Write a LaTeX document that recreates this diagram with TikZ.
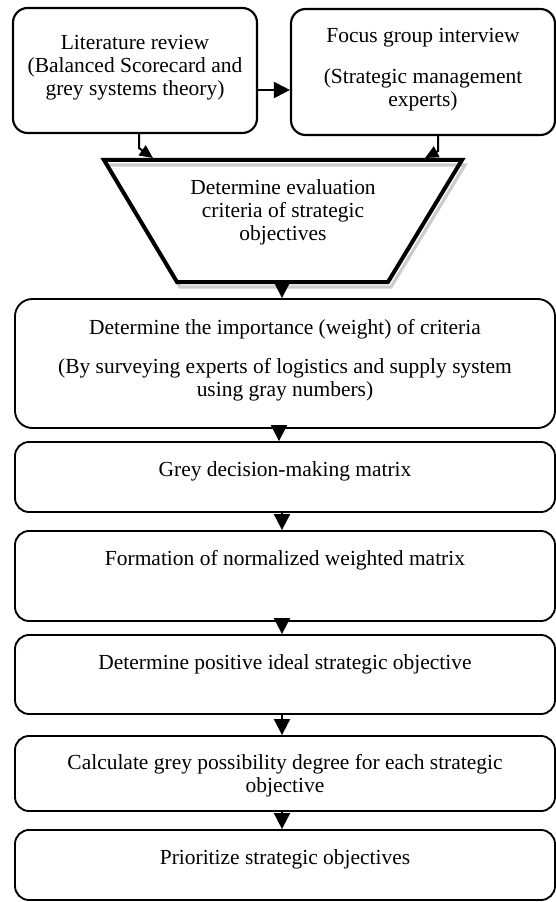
\documentclass[tikz,border=0pt]{standalone}
\usepackage{fontspec}
\setmainfont{Liberation Serif}
\usetikzlibrary{arrows.meta,fit}
\begin{document}
\begin{tikzpicture}[x=0.75pt,y=-0.75pt,
  box/.style={draw, line width=1.4pt, rounded corners=10.5pt, inner sep=0pt},
  topbox/.style={box, line width=1.6pt, rounded corners=11pt},
  txt/.style={anchor=north, inner sep=0pt, align=center, font=\fontsize{16.1}{17.25}\selectfont},
  arr/.style={line width=1.5pt, -{Triangle[length=12pt,width=12pt]}},
  sarr/.style={line width=1.5pt, -{Triangle[length=10pt,width=9pt]}}]
\useasboundingbox (0,0) rectangle (556,902);

% top boxes
\node[topbox, fit={(13,8)(257,133)}] (A) {};
\node[txt] (At) at (135,35) {Literature review\\(Balanced Scorecard and\\grey systems theory)};
\node[topbox, fit={(291,9)(555,135)}] (B) {};
\node[txt] (Bt) at (423,28) {Focus group interview\\[13.5pt](Strategic management\\experts)};

% trapezoid with outline shadow
\coordinate (t1) at (104,160);
\coordinate (t2) at (462,160);
\coordinate (t3) at (388,282);
\coordinate (t4) at (177,282);
\draw[gray!40, line width=2.4pt, line join=miter]
  ([shift={(3,5)}]t1) -- ([shift={(3,5)}]t2) -- ([shift={(3,5)}]t3) -- ([shift={(3,5)}]t4) -- cycle;
\draw[line width=3pt, line join=miter] (t1) -- (t2) -- (t3) -- (t4) -- cycle;
\node[txt] (Tt) at (283,179) {Determine evaluation\\criteria of strategic\\objectives};
\coordinate (tb) at (282,282);
\coordinate (tl) at (153,158);
\coordinate (tr) at (425,158);

% lower boxes
\node[box, rounded corners=13pt, fit={(15,299)(555,428)}] (C) {};
\node[txt] (Ct) at (285,319) {Determine the importance (weight) of criteria\\[12pt](By surveying experts of logistics and supply system\\using gray numbers)};
\node[box, fit={(15,442)(555,512)}] (D) {};
\node[txt] (Dt) at (285,461) {Grey decision-making matrix};
\node[box, fit={(15,531)(555,621)}] (E) {};
\node[txt] (Et) at (285,550) {Formation of normalized weighted matrix};
\node[box, fit={(15,635)(555,714)}] (F) {};
\node[txt] (Ft) at (285,654) {Determine positive ideal strategic objective};
\node[box, fit={(15,736)(555,811)}] (G) {};
\node[txt] (Gt) at (285,754) {Calculate grey possibility degree for each strategic\\objective};
\node[box, fit={(15,830)(555,900)}] (H) {};
\node[txt] (Ht) at (285,849) {Prioritize strategic objectives};

% connectors
\coordinate (ay) at (0,90);
\draw[arr] (A.east |- ay) -- (B.west |- ay);
\coordinate (sl) at (139,0);
\coordinate (sr) at (438,0);
\draw[sarr] (A.south -| sl) -- ++(0,14) -- (tl);
\draw[sarr] (B.south -| sr) -- ++(0,15) -- (tr);
\coordinate (ax) at (282,0);
\coordinate (ax2) at (279,0);
\draw[arr] (tb) -- (C.north -| tb);
\draw[arr] (C.south -| ax2) -- (D.north -| ax2);
\draw[arr] (D.south -| ax) -- (E.north -| ax);
\draw[arr] (E.south -| ax) -- (F.north -| ax);
\draw[arr] (F.south -| ax) -- (G.north -| ax);
\draw[arr] (G.south -| ax) -- (H.north -| ax);
\end{tikzpicture}
\end{document}
